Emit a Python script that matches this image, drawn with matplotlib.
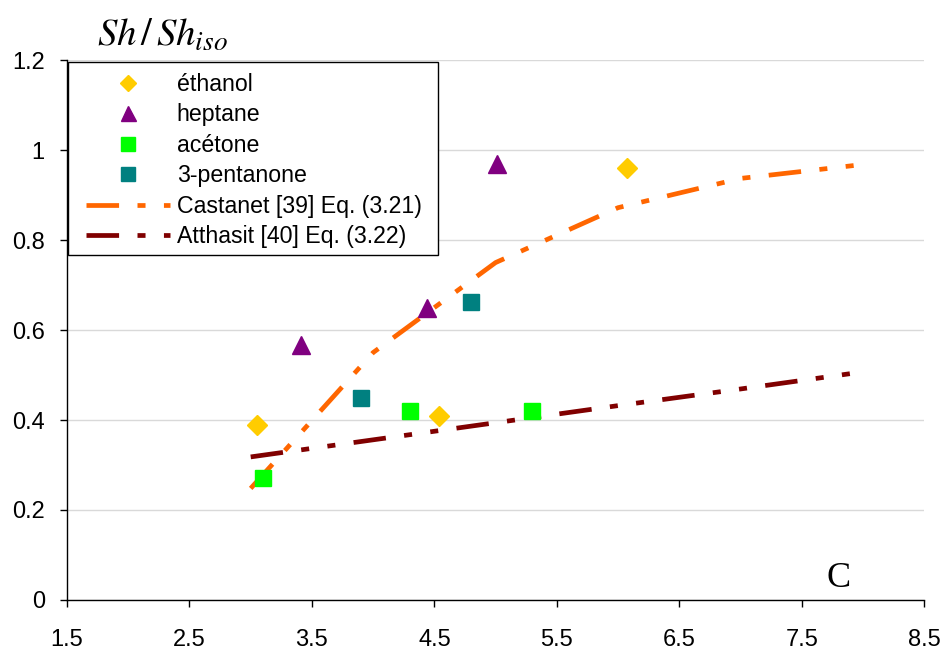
import matplotlib.pyplot as plt
from matplotlib.patches import Rectangle

plt.rcParams['font.family'] = ['Liberation Sans', 'DejaVu Sans']
plt.rcParams['mathtext.fontset'] = 'stix'

# measured points
ethanol_x = [3.05, 4.54, 6.07]
ethanol_y = [0.39, 0.41, 0.96]
heptane_x = [3.41, 4.44, 5.01]
heptane_y = [0.567, 0.649, 0.969]
acetone_x = [3.10, 4.30, 5.30]
acetone_y = [0.271, 0.42, 0.42]
pentanone_x = [3.90, 4.80]
pentanone_y = [0.449, 0.662]

# correlations
castanet_x = [3.0, 4.0, 5.0, 6.0, 7.0, 8.0]
castanet_y = [0.248, 0.55, 0.75, 0.872, 0.937, 0.968]
atthasit_x = [3.0, 4.0, 5.0, 6.0, 7.0, 8.0]
atthasit_y = [0.318, 0.356, 0.394, 0.432, 0.469, 0.507]

x_ticks = [1.5, 2.5, 3.5, 4.5, 5.5, 6.5, 7.5, 8.5]
y_ticks = [0, 0.2, 0.4, 0.6, 0.8, 1, 1.2]
y_tick_labels = ['0', '0.2', '0.4', '0.6', '0.8', '1', '1.2']

fig = plt.figure(figsize=(9.45, 6.52), dpi=100)
ax = fig.add_axes([0.0709, 0.0798, 0.9071, 0.828])

dash = (0, (6.9, 3.9, 1.7, 3.9, 1.7, 3.9))
ax.plot(ethanol_x, ethanol_y, 'D', color='#FFCC00', ms=9.9, mec='#FFCC00', label='éthanol', zorder=4)
ax.plot(heptane_x, heptane_y, '^', color='#800080', ms=13.5, mec='#800080', label='heptane', zorder=4)
ax.plot(acetone_x, acetone_y, 's', color='#00FF00', ms=12.2, mec='#00FF00', label='acétone', zorder=4)
ax.plot(pentanone_x, pentanone_y, 's', color='#008080', ms=12.2, mec='#008080', label='3-pentanone', zorder=4)
ax.plot(castanet_x, castanet_y, color='#FF6600', lw=3.4, linestyle=dash,
        label='Castanet [39] Eq. (3.21)', zorder=3)
ax.plot(atthasit_x, atthasit_y, color='#800000', lw=3.4, linestyle=dash,
        label='Atthasit [40] Eq. (3.22)', zorder=3)

ax.set_xlim(1.5, 8.5)
ax.set_ylim(0, 1.2)
ax.set_xticks(x_ticks)
ax.set_xticklabels([str(v) for v in x_ticks])
ax.set_yticks(y_ticks)
ax.set_yticklabels(y_tick_labels)
ax.tick_params(axis='both', labelsize=17, length=5, width=1, direction='out')
ax.tick_params(axis='x', pad=16)
ax.tick_params(axis='y', pad=11)

ax.grid(axis='y', color='#D9D9D9', lw=1)
ax.set_axisbelow(True)
for s in ['top', 'right']:
    ax.spines[s].set_visible(False)
for s in ['left', 'bottom']:
    ax.spines[s].set_color('black')
    ax.spines[s].set_linewidth(1)

# legend frame drawn separately (wider side padding than top/bottom)
ax.add_patch(Rectangle((0.001, 0.639), 0.432, 0.357, transform=ax.transAxes,
                       facecolor='white', edgecolor='black', lw=1, zorder=5,
                       clip_on=False))
leg = ax.legend(loc='upper left', bbox_to_anchor=(0.0225, 0.976), fontsize=16.7,
                frameon=False, handlelength=3.6, handletextpad=0.3, markerscale=0.8,
                labelspacing=0.32, borderpad=0, borderaxespad=0)
leg.set_zorder(6)

fig.text(0.103, 0.93, r'$Sh\,/\,Sh_{iso}$', fontsize=28)
fig.text(0.875, 0.1, 'C', fontsize=26, family='Liberation Serif')

fig.savefig('out.png', dpi=100)
